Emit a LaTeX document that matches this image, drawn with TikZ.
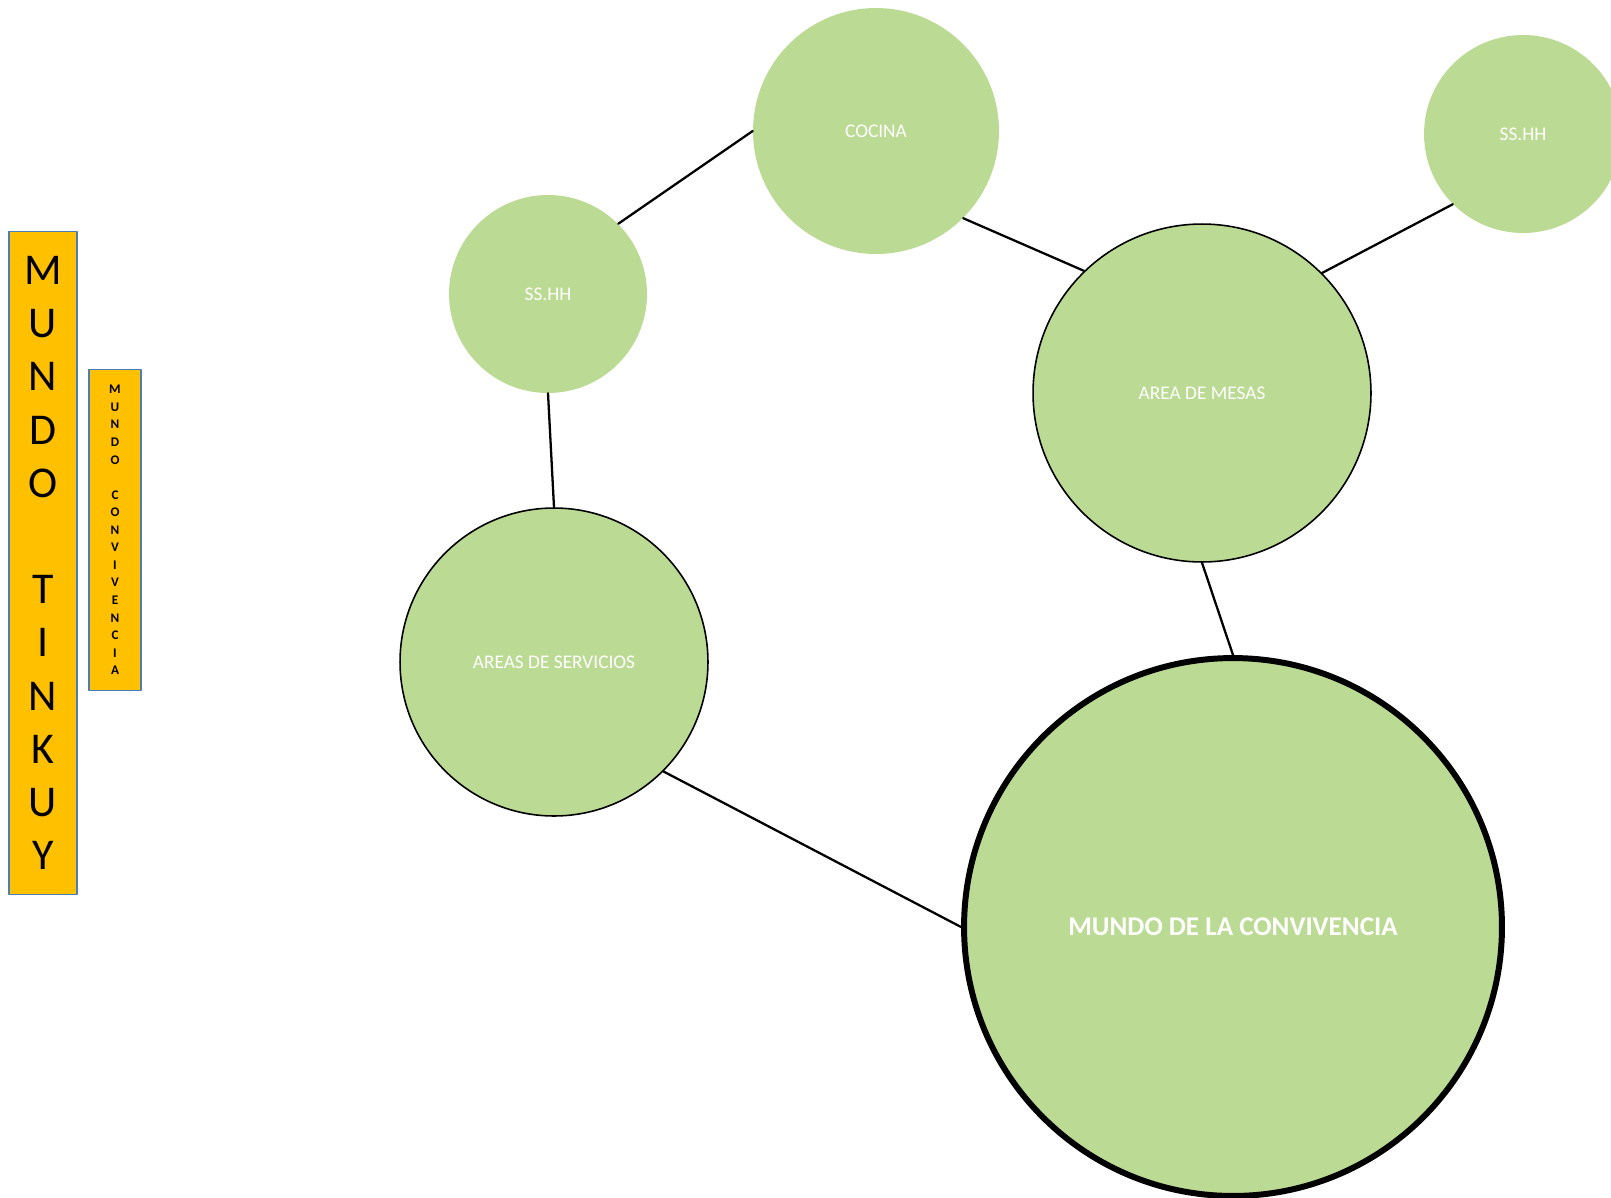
\documentclass[tikz,border=0pt]{standalone}
\usepackage{fontspec}
\setmainfont{Carlito}
\definecolor{hoja}{RGB}{187,218,147}
\definecolor{oro}{RGB}{255,192,0}
\definecolor{borde}{RGB}{74,126,187}
\begin{document}
\begin{tikzpicture}[x=0.02cm, y=-0.02cm, line join=round, line cap=round,
  bola/.style={circle, fill=hoja, inner sep=0pt, text=white, font=\fontsize{11}{13}\selectfont},
  caja/.style={rectangle, draw=borde, line width=0.8pt, fill=oro, inner sep=0pt, align=center},
  une/.style={line width=1.3pt}]
\useasboundingbox (0,0) rectangle (1611,1197);
\clip (0,0) rectangle (1611,1197);
% carteles
\node[caja, minimum width=1.36cm, minimum height=13.26cm, font=\fontsize{25}{30.3}\selectfont] (tinkuy) at (43,563) {M\\U\\N\\D\\O\\\mbox{}\\T\\I\\N\\K\\U\\Y};
\node[caja, minimum width=1.04cm, minimum height=6.42cm, font=\bfseries\fontsize{7.5}{10}\selectfont] (conviv) at (115,530) {M\\U\\N\\D\\O\\\mbox{}\\C\\O\\N\\V\\I\\V\\E\\N\\C\\I\\A};
% ambientes
\node[bola, minimum size=4.92cm] (cocina) at (876,131) {COCINA};
\node[bola, minimum size=3.96cm] (sshhA) at (548,294) {SS.HH};
\node[bola, minimum size=3.96cm] (sshhB) at (1523,134) {SS.HH};
\node[bola, draw, line width=0.9pt, minimum size=6.76cm] (mesas) at (1202,393) {AREA DE MESAS};
\node[bola, draw, line width=0.9pt, minimum size=6.16cm] (servicios) at (554,662) {AREAS DE SERVICIOS};
\node[bola, draw, line width=3.4pt, minimum size=10.76cm, font=\bfseries\fontsize{15.4}{18}\selectfont] (mundo) at (1233,927) {MUNDO DE LA CONVIVENCIA};
% enlaces
\draw[une] (sshhA.45) -- (cocina.west);
\draw[une] (cocina.-45) -- (mesas.134);
\draw[une] (sshhB.225) -- (mesas.45);
\draw[une] (sshhA.south) -- (servicios.north);
\draw[une] (servicios.-45) -- (mundo.west);
\draw[une] (mesas.south) -- (mundo.north);
\end{tikzpicture}
\end{document}
